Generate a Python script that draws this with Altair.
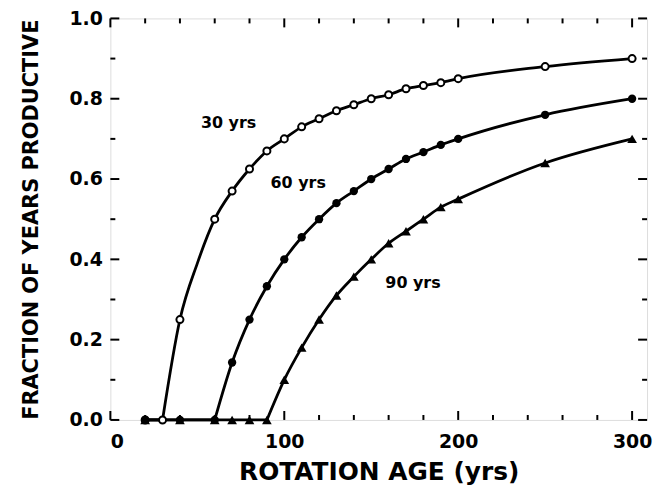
import altair as alt
import pandas as pd

# ---- data ----
# marker points
age_30 = [20, 30, 40, 60, 70, 80, 90, 100, 110, 120, 130, 140, 150, 160, 170, 180, 190, 200, 250, 300]
frac_30 = [0.0, 0.0, 0.25, 0.50, 0.57, 0.625, 0.67, 0.70, 0.73, 0.75, 0.77, 0.785, 0.80, 0.81, 0.825, 0.833, 0.84, 0.85, 0.88, 0.90]

age_60 = [20, 40, 60, 70, 80, 90, 100, 110, 120, 130, 140, 150, 160, 170, 180, 190, 200, 250, 300]
frac_60 = [0.0, 0.0, 0.0, 0.143, 0.25, 0.333, 0.40, 0.455, 0.50, 0.54, 0.57, 0.60, 0.625, 0.65, 0.667, 0.685, 0.70, 0.76, 0.80]

age_90 = [20, 40, 60, 70, 80, 90, 100, 110, 120, 130, 140, 150, 160, 170, 180, 190, 200, 250, 300]
frac_90 = [0.0, 0.0, 0.0, 0.0, 0.0, 0.0, 0.10, 0.18, 0.25, 0.31, 0.357, 0.40, 0.44, 0.47, 0.50, 0.53, 0.55, 0.64, 0.70]

# age at which each curve leaves zero (corner of the line)
start_age = [30, 60, 90]

# curve of the 30 yrs line between its markers at 40 and 60 (no marker drawn there)
line_extra_age_30 = [50]
line_extra_frac_30 = [0.39]

series_names = ["30 yrs", "60 yrs", "90 yrs"]
label_text = ["30 yrs", "60 yrs", "90 yrs"]
label_x = [68, 108, 174]
label_y = [0.74, 0.59, 0.34]

x_tick_vals = [0, 20, 40, 60, 80, 100, 120, 140, 160, 180, 200, 220, 240, 260, 280, 300]
x_major_vals = [0, 100, 200, 300]
y_tick_vals = [0.0, 0.1, 0.2, 0.3, 0.4, 0.5, 0.6, 0.7, 0.8, 0.9, 1.0]
y_major_vals = [0.0, 0.2, 0.4, 0.6, 0.8, 1.0]

# ---- build tables ----
rows = []
for name, xs, ys in zip(series_names, [age_30, age_60, age_90], [frac_30, frac_60, frac_90]):
    for a, f in zip(xs, ys):
        rows.append({"series": name, "age": a, "frac": f})
df = pd.DataFrame(rows)

line_rows = []
all_line = rows + [{"series": "30 yrs", "age": a, "frac": f}
                   for a, f in zip(line_extra_age_30, line_extra_frac_30)]
for name, s0 in zip(series_names, start_age):
    for r in all_line:
        if r["series"] != name:
            continue
        if r["age"] <= s0:
            line_rows.append({**r, "seg": "flat"})
        if r["age"] >= s0:
            line_rows.append({**r, "seg": "rise"})
line_df = pd.DataFrame(line_rows).sort_values(["series", "seg", "age"])
line_df["key"] = line_df["series"] + "_" + line_df["seg"]
labels_df = pd.DataFrame({"text": label_text, "x": label_x, "y": label_y})

W, H = 540, 404
FONT = "DejaVu Sans"

x_scale = alt.Scale(domain=[0, 308.6], nice=False, zero=False)
y_scale = alt.Scale(domain=[0, 1], nice=False)

x_enc = alt.X("age:Q", scale=x_scale,
              axis=alt.Axis(title="ROTATION AGE (yrs)", values=x_major_vals, ticks=False,
                            domain=False, grid=False, labelPadding=13, titlePadding=8,
                            labelFont=FONT, labelFontSize=19, labelFontWeight="bold",
                            titleFont=FONT, titleFontSize=25, titleFontWeight="bold",
                            labelColor="black", titleColor="black"))
y_enc = alt.Y("frac:Q", scale=y_scale,
              axis=alt.Axis(title="FRACTION OF YEARS PRODUCTIVE", values=y_major_vals, format=".1f",
                            ticks=False, domain=False, grid=False, labelPadding=8, titlePadding=28,
                            labelFont=FONT, labelFontSize=19, labelFontWeight="bold",
                            titleFont=FONT, titleFontSize=21, titleFontWeight="bold",
                            labelColor="black", titleColor="black"))

lines = alt.Chart(line_df).mark_line(color="black", strokeWidth=2.8, interpolate="monotone").encode(
    x=x_enc, y=y_enc, detail="key:N", order="age:Q")

base = alt.Chart(df)
pts_open = base.transform_filter(alt.datum.series == "30 yrs").mark_point(
    shape="circle", filled=True, fill="white", stroke="black", strokeWidth=2, size=50, opacity=1
).encode(x="age:Q", y="frac:Q")

pts_fill = base.transform_filter(alt.datum.series == "60 yrs").mark_point(
    shape="circle", filled=True, color="black", size=70, opacity=1
).encode(x="age:Q", y="frac:Q")

pts_tri = base.transform_filter(alt.datum.series == "90 yrs").mark_point(
    shape="triangle-up", filled=True, color="black", size=95, opacity=1
).encode(x="age:Q", y="frac:Q")

texts = alt.Chart(labels_df).mark_text(font=FONT, fontSize=16, fontWeight="bold", color="black").encode(
    x="x:Q", y="y:Q", text="text:N")

# inward tick marks on all four sides
xt = pd.DataFrame({"v": x_tick_vals})
xt["major"] = xt["v"].isin(x_major_vals)
yt = pd.DataFrame({"v": y_tick_vals})
yt["major"] = yt["v"].round(1).isin(y_major_vals)

def tick_layers(tdf, axis, length):
    out = []
    sub = tdf[tdf["major"] == (length > 6)]
    c = alt.Chart(sub).mark_rule(color="black", strokeWidth=2)
    if axis == "x":
        out.append(c.encode(x="v:Q", y=alt.value(H), y2=alt.value(H - length)))
        out.append(c.encode(x="v:Q", y=alt.value(0), y2=alt.value(length)))
    else:
        out.append(c.encode(y="v:Q", x=alt.value(0), x2=alt.value(length)))
        out.append(c.encode(y="v:Q", x=alt.value(W), x2=alt.value(W - length)))
    return out

ticks = (tick_layers(xt, "x", 9) + tick_layers(xt, "x", 5)
         + tick_layers(yt, "y", 9) + tick_layers(yt, "y", 5))

chart = alt.layer(lines, pts_open, pts_fill, pts_tri, texts, *ticks).properties(
    width=W, height=H,
    padding={"left": 12, "top": 0, "right": 5, "bottom": 5},
).configure_view(stroke="black", strokeWidth=3).configure(background="white")

chart.save("out.html", embed_options={"renderer": "svg", "actions": False})
